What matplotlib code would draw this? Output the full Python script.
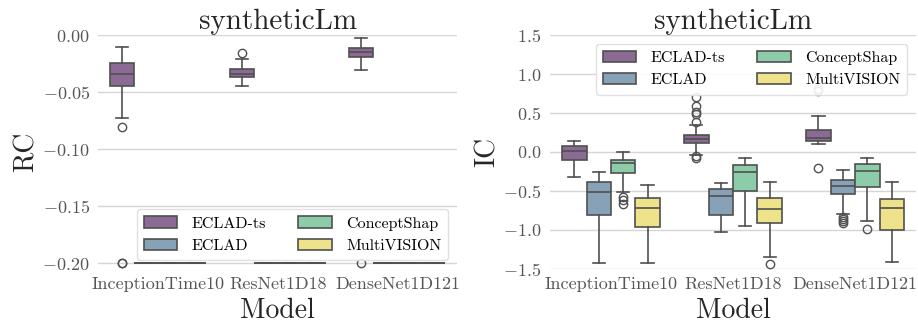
import matplotlib
matplotlib.use("Agg")
import matplotlib.pyplot as plt
from matplotlib.patches import Patch

plt.rcParams["font.family"] = ["cmr10", "DejaVu Serif"]
plt.rcParams["mathtext.fontset"] = "cm"
plt.rcParams["axes.formatter.use_mathtext"] = True

models = ["InceptionTime10", "ResNet1D18", "DenseNet1D121"]
methods = ["ECLAD-ts", "ECLAD", "ConceptShap", "MultiVISION"]
colors = ["#8b6a93", "#87a1b6", "#8dcca8", "#eee38a"]

# box stats per model, per method: (whislo, q1, med, q3, whishi, fliers)
rc_stats = {
    "InceptionTime10": [(-0.0725, -0.045, -0.034, -0.0246, -0.0102, [-0.0807, -0.2, -0.2]),
                        (-0.2, -0.2, -0.2, -0.2, -0.2, []),
                        (-0.2, -0.2, -0.2, -0.2, -0.2, []),
                        (-0.2, -0.2, -0.2, -0.2, -0.2, [])],
    "ResNet1D18": [(-0.0447, -0.037, -0.034, -0.030, -0.0208, [-0.016]),
                   (-0.2, -0.2, -0.2, -0.2, -0.2, []),
                   (-0.2, -0.2, -0.2, -0.2, -0.2, []),
                   (-0.2, -0.2, -0.2, -0.2, -0.2, [])],
    "DenseNet1D121": [(-0.031, -0.0196, -0.0146, -0.0114, -0.0029, [-0.2]),
                      (-0.2, -0.2, -0.2, -0.2, -0.2, []),
                      (-0.2, -0.2, -0.2, -0.2, -0.2, []),
                      (-0.2, -0.2, -0.2, -0.2, -0.2, [])],
}

ic_stats = {
    "InceptionTime10": [(-0.325, -0.098, 0.017, 0.073, 0.141, []),
                        (-1.42, -0.813, -0.509, -0.385, -0.257, []),
                        (-0.513, -0.274, -0.137, -0.107, -0.004, [-0.58, -0.62, -0.67]),
                        (-1.43, -0.958, -0.723, -0.586, -0.424, [])],
    "ResNet1D18": [(-0.034, 0.116, 0.163, 0.218, 0.342, [0.706, 0.595, 0.513, 0.49, 0.389, -0.056, -0.077]),
                   (-1.027, -0.813, -0.565, -0.471, -0.398, []),
                   (-0.946, -0.505, -0.252, -0.167, -0.073, []),
                   (-1.344, -0.907, -0.736, -0.586, -0.381, [-1.434])],
    "DenseNet1D121": [(0.098, 0.145, 0.184, 0.278, 0.462, [0.813, 0.779, -0.205]),
                      (-0.80, -0.539, -0.432, -0.359, -0.227, [-0.834, -0.86, -0.886, -0.91]),
                      (-0.886, -0.449, -0.244, -0.154, -0.077, [-0.984]),
                      (-1.416, -1.001, -0.719, -0.603, -0.385, [])],
}

offsets = [-0.3, -0.1, 0.1, 0.3]
edge = "#505050"


def draw(ax, stats, ylabel, ylim, yticks, legend_loc):
    for i, m in enumerate(models):
        for j in range(len(methods)):
            lo, q1, med, q3, hi, fl = stats[m][j]
            s = dict(whislo=lo, q1=q1, med=med, q3=q3, whishi=hi, fliers=fl)
            ax.bxp([s], positions=[i + offsets[j]], widths=0.2, patch_artist=True,
                   showfliers=True, capwidths=0.1,
                   boxprops=dict(facecolor=colors[j], edgecolor=edge, linewidth=1.2),
                   medianprops=dict(color=edge, linewidth=1.2),
                   whiskerprops=dict(color=edge, linewidth=1.2),
                   capprops=dict(color=edge, linewidth=1.2),
                   flierprops=dict(marker="o", markerfacecolor="none", markeredgecolor=edge,
                                   markersize=6, markeredgewidth=1.0))
    ax.set_xlim(-0.5, 2.5)
    ax.set_ylim(*ylim)
    ax.set_yticks(yticks)
    ax.set_xticks(range(len(models)))
    ax.set_xticklabels(models)
    ax.grid(axis="y", color="#d5d5d5", linewidth=1.0)
    ax.set_axisbelow(True)
    for sp in ax.spines.values():
        sp.set_visible(False)
    ax.tick_params(axis="both", length=0, labelsize=13, labelcolor="#555555", pad=6)
    ax.set_title("syntheticLm", fontsize=21, color="#262626", pad=2)
    ax.set_xlabel("Model", fontsize=20, color="#262626", labelpad=3.5)
    ax.set_ylabel(ylabel, fontsize=20, color="#262626", labelpad=2)
    handles = [Patch(facecolor=colors[k], edgecolor=edge, linewidth=1.2, label=methods[k])
               for k in range(len(methods))]
    ax.legend(handles=handles, ncol=2, loc=legend_loc, fontsize=11.5, handlelength=2.1,
              handletextpad=0.9, columnspacing=2.0, frameon=True, edgecolor="#dddddd",
              framealpha=0.9, borderaxespad=0.55, borderpad=0.45)


fig = plt.figure(figsize=(9.18, 3.25), dpi=100)
ax1 = fig.add_axes([0.107, 0.173, 0.391, 0.719])
ax2 = fig.add_axes([0.599, 0.173, 0.399, 0.719])

draw(ax1, rc_stats, "RC", (-0.205, 0.0), [0.0, -0.05, -0.10, -0.15, -0.20], "lower right")
draw(ax2, ic_stats, "IC", (-1.5, 1.5), [1.5, 1.0, 0.5, 0.0, -0.5, -1.0, -1.5], "upper right")

fig.savefig("out.png", dpi=100)
